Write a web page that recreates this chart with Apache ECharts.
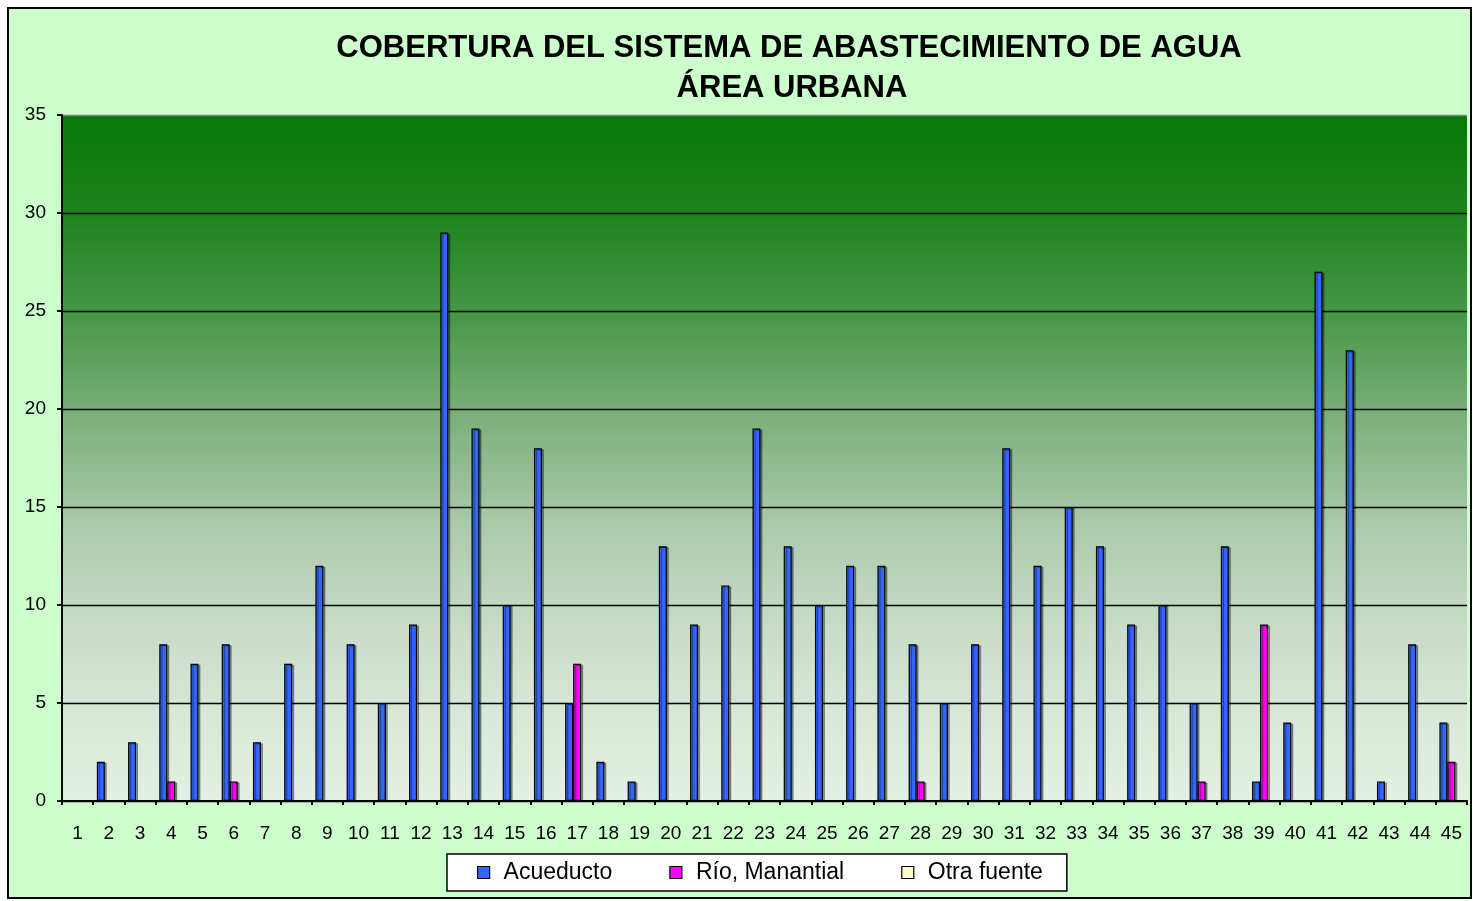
<!DOCTYPE html>
<html>
<head>
<meta charset="utf-8">
<script src="https://cdn.jsdelivr.net/npm/echarts@6/dist/echarts.min.js"></script>
<style>
html,body{margin:0;padding:0;background:#ffffff;}
#c{width:1473px;height:901px;}
</style>
</head>
<body>
<div id="c"></div>
<script>
var categories = ['1','2','3','4','5','6','7','8','9','10','11','12','13','14','15','16','17','18','19','20','21','22','23','24','25','26','27','28','29','30','31','32','33','34','35','36','37','38','39','40','41','42','43','44','45'];
var acueducto = [0,2,3,8,7,8,3,7,12,8,5,9,29,19,10,18,5,2,1,13,9,11,19,13,10,12,12,8,5,8,18,12,15,13,9,10,5,13,1,4,27,23,1,8,4];
var rioManantial = [0,0,0,1,0,1,0,0,0,0,0,0,0,0,0,0,7,0,0,0,0,0,0,0,0,0,0,1,0,0,0,0,0,0,0,0,1,0,9,0,0,0,0,0,2];
var otraFuente = [0,0,0,0,0,0,0,0,0,0,0,0,0,0,0,0,0,0,0,0,0,0,0,0,0,0,0,0,0,0,0,0,0,0,0,0,0,0,0,0,0,0,0,0,0];
var seriesNames = ['Acueducto','Río, Manantial','Otra fuente'];
var titleLines = ['COBERTURA DEL SISTEMA DE ABASTECIMIENTO DE AGUA','ÁREA URBANA'];

var chart = echarts.init(document.getElementById('c'));
var font = 'Arial, "Liberation Sans", sans-serif';
function nz(arr){ return arr.map(function(v){ return v === 0 ? null : v; }); }
var barStyle = function(color){
  return {color: color, borderColor: '#000', borderWidth: 1.2,
          shadowColor: 'rgba(0,0,0,0.35)', shadowOffsetX: 2, shadowOffsetY: 1, shadowBlur: 0};
};
chart.setOption({
  backgroundColor: '#ffffff',
  animation: false,
  graphic: [
    {type:'rect', z:-10, shape:{x:8,y:8,width:1463,height:890},
     style:{fill:'#ccffcc', stroke:'#000', lineWidth:2}},
    {type:'text', style:{text:titleLines[0], x:789, y:48, align:'center', verticalAlign:'middle',
      font:'bold 31px ' + font, fill:'#000'}},
    {type:'text', style:{text:titleLines[1], x:792, y:88, align:'center', verticalAlign:'middle',
      font:'bold 31px ' + font, fill:'#000'}}
  ],
  legend: {
    left: 447, top: 854,
    itemWidth: 12, itemHeight: 12, itemGap: 57,
    padding: [7, 24, 7, 30],
    backgroundColor: '#ffffff', borderColor: '#000', borderWidth: 1.5,
    icon: 'rect',
    textStyle: {fontFamily: font, fontSize: 23, color: '#000', padding:[0,0,0,9]},
    itemStyle: {borderColor: '#000', borderWidth: 1.2, shadowBlur:0, shadowOffsetX:0, shadowOffsetY:0},
    data: seriesNames
  },
  grid: {
    left: 62, right: 6, top: 115, bottom: 100,
    show: true, borderWidth: 0,
    backgroundColor: {type:'linear', x:0, y:0, x2:0, y2:1, colorStops:[
      {offset:0, color:'#077807'},
      {offset:0.15, color:'#1f841f'},
      {offset:0.3, color:'#4a984a'},
      {offset:0.45, color:'#7fb17f'},
      {offset:0.6, color:'#abcaab'},
      {offset:0.75, color:'#c8dcc8'},
      {offset:0.88, color:'#d9e8d9'},
      {offset:1, color:'#e3f0e3'}
    ]}
  },
  xAxis: {
    type: 'category', data: categories,
    axisLine: {lineStyle: {color: '#000', width: 2}},
    axisTick: {show: true, length: 4, lineStyle: {color: '#000', width: 2}},
    axisLabel: {fontFamily: font, fontSize: 19, color: '#000', margin: 23, interval: 0}
  },
  yAxis: {
    type: 'value', min: 0, max: 35, interval: 5,
    axisLine: {show: true, lineStyle: {color: '#000', width: 2}},
    axisTick: {show: true, length: 5, lineStyle: {color: '#000', width: 2}},
    axisLabel: {fontFamily: font, fontSize: 19, color: '#000', margin: 16},
    splitLine: {show: true, lineStyle: {color: ['#000','#000','#000','#000','#000','#000','#000','#808080'], width: 1.3}}
  },
  series: [
    {name: seriesNames[0], type: 'bar', data: nz(acueducto), barWidth: 8, barGap: '0%',
     itemStyle: barStyle('#3366ff')},
    {name: seriesNames[1], type: 'bar', data: nz(rioManantial), barWidth: 8, barGap: '0%',
     itemStyle: barStyle('#ff00ff')},
    {name: seriesNames[2], type: 'bar', data: nz(otraFuente), barWidth: 8, barGap: '0%',
     itemStyle: barStyle('#ffffcc')}
  ]
});
</script>
</body>
</html>
